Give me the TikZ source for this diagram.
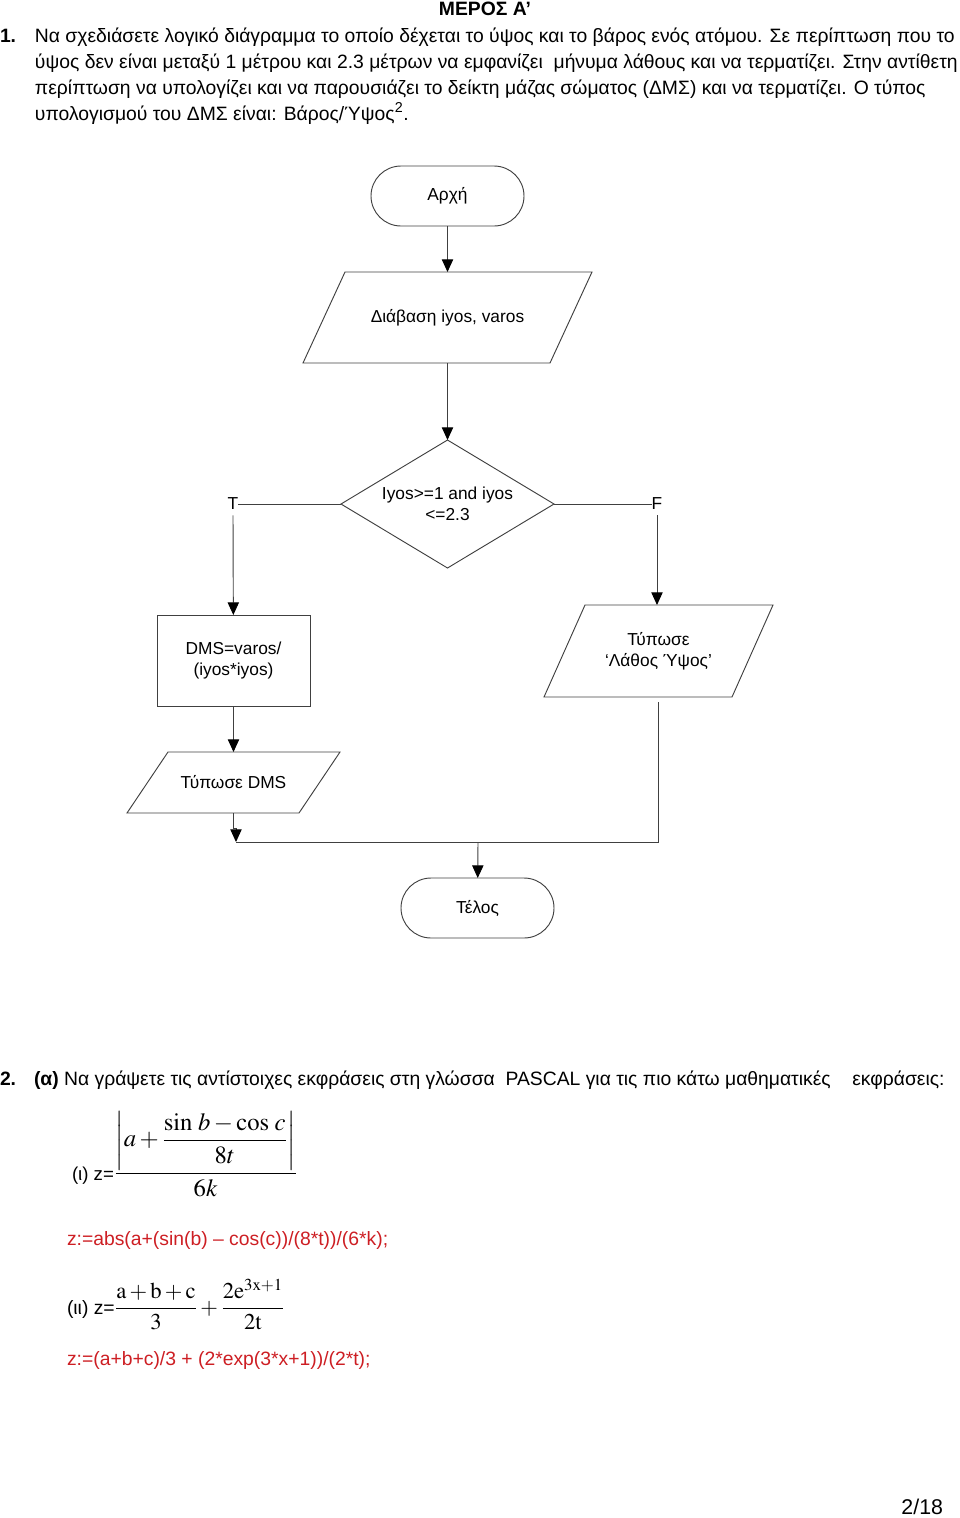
\documentclass[tikz,border=0pt]{standalone}
\usepackage{amsmath}
\usepackage{mathptmx}
\usepackage[no-math]{fontspec}
\setmainfont{Liberation Sans}
\usetikzlibrary{shapes.geometric,arrows.meta,calc}
\definecolor{pascalred}{RGB}{205,30,35}
\begin{document}
\begin{tikzpicture}[x=0.75pt,y=-0.75pt]
  \tikzstyle{every node}=[inner sep=0pt,outer sep=0pt,font=\fontsize{14.5}{17}\selectfont]
  \tikzstyle{chart}=[draw=black!75,line width=0.7pt,align=center,font=\fontsize{13}{16}\selectfont]
  \tikzstyle{terminal}=[chart,rounded corners=22.5pt,minimum width=114.75pt,minimum height=45pt]
  \tikzstyle{io}=[chart,draw=none]
  \tikzstyle{arrow}=[draw=black!75,line width=0.7pt,-{Triangle[length=9.5pt,width=8.5pt,color=black]}]
  \tikzstyle{line}=[draw=black!75,line width=0.7pt]
  \useasboundingbox (0,0) rectangle (960,1518);

  % Define the question text
  \node[anchor=base,font=\bfseries\fontsize{14.5}{17}\selectfont] (title) at (485,15) {ΜΕΡΟΣ Α’};
  \node[anchor=base west] (num1) at (0,42) {\textbf{1.}};
  \node[anchor=base west] (line1) at (35,42) {Να σχεδιάσετε λογικό διάγραμμα το οποίο δέχεται το ύψος και το βάρος ενός ατόμου. Σε περίπτωση που το};
  \node[anchor=base west] (line2) at (35,68) {ύψος δεν είναι μεταξύ 1 μέτρου και 2.3 μέτρων να εμφανίζει\ \ μήνυμα λάθους και να τερματίζει. Στην αντίθετη};
  \node[anchor=base west] (line3) at (35,94) {περίπτωση να υπολογίζει και να παρουσιάζει το δείκτη μάζας σώματος (ΔΜΣ) και να τερματίζει. Ο τύπος};
  \node[anchor=base west] (line4) at (35,120) {υπολογισμού του ΔΜΣ είναι: Βάρος/Ύψος\textsuperscript{2}.};

  % Define the flowchart blocks
  \node[terminal] (start) at (447.5,196) {Αρχή};
  \node[io,minimum width=185.25pt,minimum height=68.25pt] (read) at (447.5,317.5) {Διάβαση iyos, varos};
  \node[chart,diamond,aspect=1.66,minimum width=159.75pt,minimum height=96pt] (dec) at (447.5,504) {Iyos>=1 and iyos\\<=2.3};
  \node[font=\fontsize{13}{16}\selectfont] (T) at (233,504) {T};
  \node[font=\fontsize{13}{16}\selectfont] (F) at (657,504) {F};
  \node[chart,minimum width=114.75pt,minimum height=68.25pt] (calc) at (233.5,660.5) {DMS=varos/\\(iyos*iyos)};
  \node[io,minimum width=141pt,minimum height=69pt] (err) at (658.5,651) {Τύπωσε\\‘Λάθος Ύψος’};
  \node[io,minimum width=129pt,minimum height=45.75pt] (outdms) at (233.5,782.5) {Τύπωσε DMS};
  \node[terminal] (stop) at (477.5,908) {Τέλος};
  \coordinate (join) at (236,842);
  \coordinate (merge) at (478,842);
  \coordinate (errend) at (658,702);

  % Draw the slanted input/output outlines
  \foreach \n/\s in {read/21, err/20.5, outdms/20.5} {
    \draw[line] ($(\n.north west)+(\s,0)$) -- ($(\n.north east)+(\s,0)$)
      -- ($(\n.south east)-(\s,0)$) -- ($(\n.south west)-(\s,0)$) -- cycle;
  }

  % Draw the connectors
  \draw[arrow] (start) -- (read);
  \draw[arrow] (read) -- (dec);
  \draw[line] (dec.west) -- (T.east);
  \draw[line] (dec.east) -- (F.west);
  \draw[arrow] ([yshift=-4pt]T.south) -- (calc);
  \draw[arrow] ([yshift=-4pt]F.south) -- (F.south |- err.north);
  \draw[arrow] (calc) -- (outdms);
  \draw[arrow] (outdms.south) -- ++(0,15) -| (join);
  \draw[line] (join) -| (errend);
  \draw[arrow] (merge) -- (stop);

  % Define the second question
  \node[anchor=base west] (num2) at (0,1085) {\textbf{2.}};
  \node[anchor=base west] (line5) at (34,1085) {\textbf{(α)} Να γράψετε τις αντίστοιχες εκφράσεις στη γλώσσα\ \ PASCAL για τις πιο κάτω μαθηματικές\ \ \ \ εκφράσεις:};
  \node[anchor=base west,font=\fontsize{18.5}{22}\selectfont] (expr1) at (72,1180) {{\fontsize{14}{16}\selectfont (ι) z=}$\dfrac{\left|a+\dfrac{\sin\,b-\cos\,c}{8t}\right|}{6k}$};
  \node[anchor=base west,text=pascalred] (code1) at (67,1245) {z:=abs(a+(sin(b) – cos(c))/(8*t))/(6*k);};
  \node[anchor=base west,font=\fontsize{17}{20}\selectfont] (expr2) at (67,1314) {{\fontsize{14.5}{16}\selectfont (ιι) z=}$\dfrac{\mathrm{a}+\mathrm{b}+\mathrm{c}}{3}+\dfrac{2\mathrm{e}^{3\mathrm{x}+1}}{2\mathrm{t}}$};
  \node[anchor=base west,text=pascalred] (code2) at (67,1365) {z:=(a+b+c)/3 + (2*exp(3*x+1))/(2*t);};
  \node[anchor=base east,font=\fontsize{16}{19}\selectfont] (page) at (943,1514) {2/18};
\end{tikzpicture}
\end{document}
